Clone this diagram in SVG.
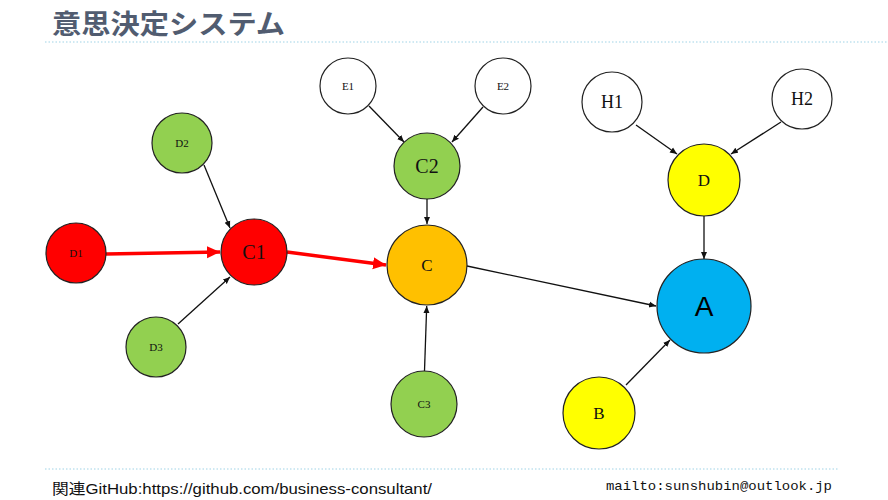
<svg xmlns="http://www.w3.org/2000/svg" width="888" height="500" viewBox="0 0 888 500">
<style>
.n{stroke:#222;stroke-width:1.2}
.t{font-family:"Liberation Serif","Noto Sans CJK JP",serif;text-anchor:middle;fill:#111}
.e{stroke:#111;stroke-width:1.3;fill:none;marker-end:url(#ab)}
.r{stroke:#ff0000;stroke-width:3.5;fill:none;marker-end:url(#ar)}
.dot{stroke:#9fd3e6;stroke-width:1;stroke-dasharray:1.5 2}
</style>
<defs>
<marker id="ab" markerUnits="userSpaceOnUse" markerWidth="8" markerHeight="8" refX="7" refY="3.5" orient="auto"><path d="M0,0.5 L7,3.5 L0,6.5 Z" fill="#111"/></marker>
<marker id="ar" markerUnits="userSpaceOnUse" markerWidth="14" markerHeight="14" refX="13" refY="6" orient="auto"><path d="M0,0 L13,6 L0,12 Z" fill="#ff0000"/></marker>
</defs>
<rect width="888" height="500" fill="#fff"/>
<text x="52" y="34" font-family="Noto Sans CJK JP,sans-serif" font-weight="bold" font-size="27" fill="#515c70" textLength="233" lengthAdjust="spacingAndGlyphs">意思決定システム</text>
<line class="dot" x1="45" y1="42" x2="888" y2="42"/>
<g id="connectors">
<line class="r" x1="106" y1="254" x2="220" y2="252"/>
<line class="r" x1="287" y1="252" x2="386" y2="265"/>
<line class="e" x1="204" y1="165" x2="230" y2="228"/>
<line class="e" x1="178" y1="324" x2="230" y2="277"/>
<line class="e" x1="369" y1="106" x2="404" y2="142"/>
<line class="e" x1="483" y1="107" x2="452" y2="142"/>
<line class="e" x1="427" y1="199" x2="427" y2="224"/>
<line class="e" x1="424.5" y1="371" x2="426.7" y2="306"/>
<line class="e" x1="467" y1="266" x2="656" y2="306"/>
<line class="e" x1="636" y1="125" x2="677" y2="154"/>
<line class="e" x1="781" y1="122" x2="731" y2="154"/>
<line class="e" x1="704" y1="216" x2="704" y2="259"/>
<line class="e" x1="626" y1="385" x2="670" y2="340"/>
</g>
<g id="D1"><circle class="n" cx="76" cy="253" r="30" fill="#ff0000"/><text class="t" x="76" y="257" font-size="11">D1</text></g>
<g id="D2"><circle class="n" cx="182" cy="143" r="30" fill="#92d050"/><text class="t" x="182" y="147" font-size="11">D2</text></g>
<g id="D3"><circle class="n" cx="156" cy="347" r="30" fill="#92d050"/><text class="t" x="156" y="351" font-size="11">D3</text></g>
<g id="C1"><circle class="n" cx="254" cy="252" r="33" fill="#ff0000"/><text class="t" x="254" y="259" font-size="20">C1</text></g>
<g id="E1"><circle class="n" cx="348" cy="86" r="28" fill="#fff"/><text class="t" x="348" y="90" font-size="11">E1</text></g>
<g id="E2"><circle class="n" cx="503" cy="86" r="28" fill="#fff"/><text class="t" x="503" y="90" font-size="11">E2</text></g>
<g id="C2"><circle class="n" cx="427" cy="166" r="33" fill="#92d050"/><text class="t" x="427" y="173" font-size="20">C2</text></g>
<g id="C"><circle class="n" cx="427" cy="265" r="40" fill="#ffc000"/><text class="t" x="427" y="271" font-size="17">C</text></g>
<g id="C3"><circle class="n" cx="424" cy="404" r="33" fill="#92d050"/><text class="t" x="424" y="408" font-size="11">C3</text></g>
<g id="H1"><circle class="n" cx="612" cy="102" r="30" fill="#fff"/><text class="t" x="612" y="108" font-size="18">H1</text></g>
<g id="H2"><circle class="n" cx="802" cy="99" r="30" fill="#fff"/><text class="t" x="802" y="105" font-size="18">H2</text></g>
<g id="D"><circle class="n" cx="704" cy="180" r="36" fill="#ffff00"/><text class="t" x="704" y="186" font-size="17">D</text></g>
<g id="A"><circle class="n" cx="704" cy="306" r="47" fill="#00b0f0"/><text x="704" y="316" font-family="Liberation Sans,sans-serif" font-size="28" text-anchor="middle" fill="#000">A</text></g>
<g id="B"><circle class="n" cx="599" cy="413" r="36" fill="#ffff00"/><text class="t" x="599" y="419" font-size="17">B</text></g>
<line class="dot" x1="45" y1="469" x2="838" y2="469"/>
<text x="52" y="494" font-family="Liberation Sans,Noto Sans CJK JP,sans-serif" font-size="15" fill="#111" textLength="380" lengthAdjust="spacingAndGlyphs">関連GitHub:https://github.com/business-consultant/</text>
<text x="606" y="490" font-family="Liberation Mono,monospace" font-size="13" fill="#111" textLength="226" lengthAdjust="spacingAndGlyphs">mailto:sunshubin@outlook.jp</text>
</svg>
